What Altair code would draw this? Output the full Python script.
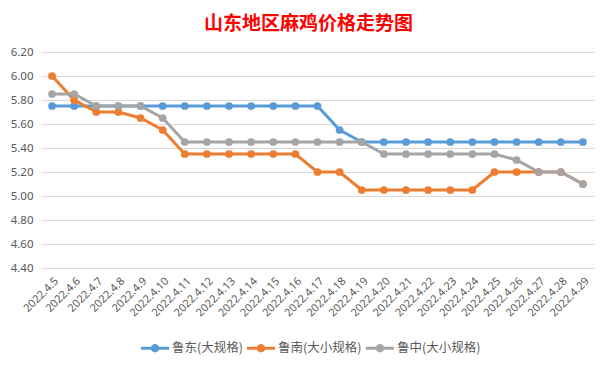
import altair as alt
import pandas as pd

dates = ["2022.4.5", "2022.4.6", "2022.4.7", "2022.4.8", "2022.4.9", "2022.4.10",
         "2022.4.11", "2022.4.12", "2022.4.13", "2022.4.14", "2022.4.15", "2022.4.16",
         "2022.4.17", "2022.4.18", "2022.4.19", "2022.4.20", "2022.4.21", "2022.4.22",
         "2022.4.23", "2022.4.24", "2022.4.25", "2022.4.26", "2022.4.27", "2022.4.28",
         "2022.4.29"]
series = ["鲁东(大规格)", "鲁南(大小规格)", "鲁中(大小规格)"]
colors = ["#5B9BD5", "#ED7D31", "#A5A5A5"]

ludong = [5.75, 5.75, 5.75, 5.75, 5.75, 5.75, 5.75, 5.75, 5.75, 5.75, 5.75, 5.75,
          5.75, 5.55, 5.45, 5.45, 5.45, 5.45, 5.45, 5.45, 5.45, 5.45, 5.45, 5.45, 5.45]
lunan = [6.00, 5.80, 5.70, 5.70, 5.65, 5.55, 5.35, 5.35, 5.35, 5.35, 5.35, 5.35,
         5.20, 5.20, 5.05, 5.05, 5.05, 5.05, 5.05, 5.05, 5.20, 5.20, 5.20, 5.20, 5.10]
luzhong = [5.85, 5.85, 5.75, 5.75, 5.75, 5.65, 5.45, 5.45, 5.45, 5.45, 5.45, 5.45,
           5.45, 5.45, 5.45, 5.35, 5.35, 5.35, 5.35, 5.35, 5.35, 5.30, 5.20, 5.20, 5.10]

y_ticks = [4.4, 4.6, 4.8, 5.0, 5.2, 5.4, 5.6, 5.8, 6.0, 6.2]

rows = []
for name, vals in zip(series, [ludong, lunan, luzhong]):
    for d, v in zip(dates, vals):
        rows.append({"date": d, "price": v, "series": name})
df = pd.DataFrame(rows)

sym = ("M-1,-0.11 L1,-0.11 L1,0.11 L-1,0.11 Z "
       "M-0.3,0 A0.3,0.3 0 1,1 0.3,0 A0.3,0.3 0 1,1 -0.3,0 Z")

x = alt.X("date:N", sort=dates, title=None,
          scale=alt.Scale(type="point", padding=0.5),
          axis=alt.Axis(labelAngle=-45, labelFontSize=11, labelColor="#595959",
                        labelFont="Noto Sans", ticks=False, domain=False, grid=False,
                        labelPadding=7, labelOverlap=False))
y = alt.Y("price:Q", title=None,
          scale=alt.Scale(domain=[4.4, 6.2], nice=False, zero=False),
          axis=alt.Axis(values=y_ticks, format=".2f", labelFontSize=11.5,
                        labelColor="#595959", labelFont="Noto Sans", ticks=False,
                        domain=False, gridColor="#D9D9D9", gridWidth=1, labelPadding=8))
color = alt.Color("series:N", sort=series,
                  scale=alt.Scale(domain=series, range=colors),
                  legend=alt.Legend(title=None, orient="none", direction="horizontal",
                                    legendX=100, legendY=282, symbolType=sym,
                                    symbolSize=784, symbolStrokeWidth=0,
                                    symbolOpacity=1, labelFontSize=12.5,
                                    labelColor="#595959", labelFont="Noto Sans CJK SC",
                                    columnPadding=4, labelOffset=3))

base = alt.Chart(df)
lines = base.mark_line(strokeWidth=3).encode(x=x, y=y, color=color)
points = base.mark_point(filled=True, size=60, opacity=1).encode(x=x, y=y, color=color)

chart = (lines + points).properties(
    width=553, height=216,
    title=alt.TitleParams("山东地区麻鸡价格走势图", fontSize=19, color="#FF0000",
                          font="Noto Sans CJK SC", fontWeight="bold", offset=12, dx=-9),
    autosize=alt.AutoSizeParams(type="none"),
    padding={"left": 33, "top": 44, "right": 12, "bottom": 98},
    background="white",
).configure_view(stroke=None)

chart.save("out.html", embed_options={"renderer": "svg", "actions": False})
